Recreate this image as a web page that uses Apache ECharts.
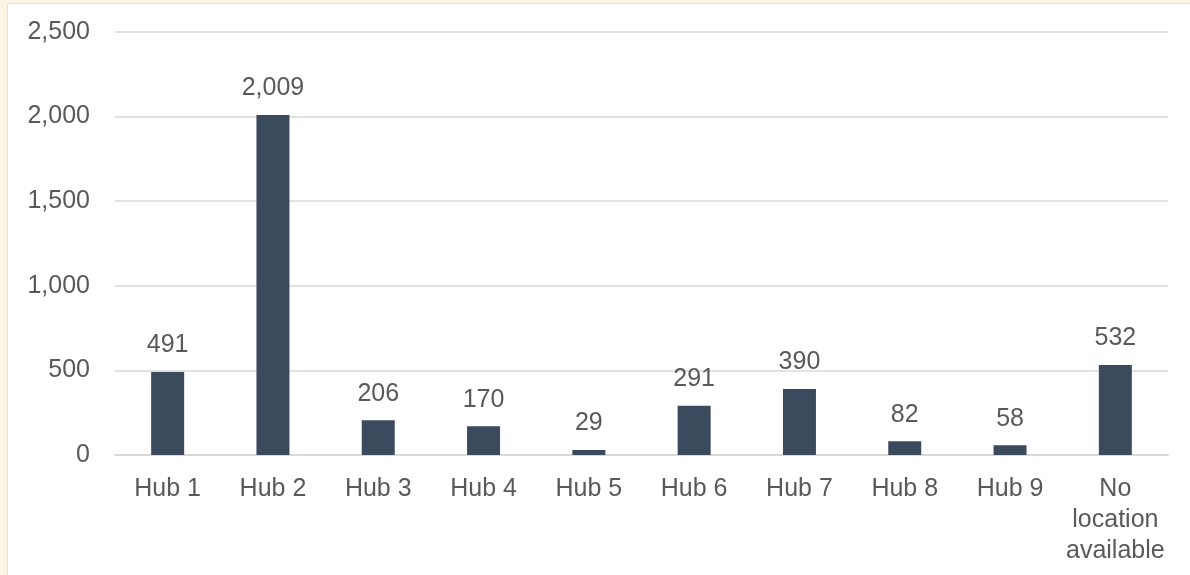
<!DOCTYPE html>
<html lang="en">
<head>
  <meta charset="UTF-8" />
  <title>Hub counts</title>
  <script src="https://cdn.jsdelivr.net/npm/echarts@6/dist/echarts.min.js"></script>
  <style>
    html, body {
      margin: 0;
      padding: 0;
      background-color: #fdf5e3;
      width: 1190px;
      height: 575px;
      overflow: hidden;
    }
    #wrap {
      position: absolute;
      left: 7px;
      top: 3px;
      width: 1182px;
      height: 572px;
      background: #fff;
      border-left: 1px solid #e6e2da;
      border-top: 1px solid #e6e2da;
    }
    #chart {
      width: 1182px;
      height: 572px;
    }
  </style>
</head>
<body>
  <div id="wrap"><div id="chart"></div></div>
  <script>
    var categories = ["Hub 1", "Hub 2", "Hub 3", "Hub 4", "Hub 5", "Hub 6", "Hub 7", "Hub 8", "Hub 9", "No\nlocation\navailable"];
    var counts = [491, 2009, 206, 170, 29, 291, 390, 82, 58, 532];
    var yTicks = [0, 500, 1000, 1500, 2000, 2500];

    var textColor = "#595959";
    var font = "Liberation Sans, Arial, sans-serif";

    var chart = echarts.init(document.getElementById("chart"));
    chart.setOption({
      animation: false,
      grid: { left: 107, right: 22, top: 28, bottom: 121 },
      xAxis: {
        type: "category",
        data: categories,
        axisLine: { lineStyle: { color: "#d9d9d9", width: 2 } },
        axisTick: { show: false },
        axisLabel: {
          color: textColor,
          fontFamily: font,
          fontSize: 25,
          lineHeight: 31,
          margin: 19,
          interval: 0
        }
      },
      yAxis: {
        type: "value",
        min: yTicks[0],
        max: yTicks[yTicks.length - 1],
        interval: 500,
        axisLine: { show: false },
        axisTick: { show: false },
        splitLine: { lineStyle: { color: "#d9d9d9", width: 1.5 } },
        axisLabel: {
          color: textColor,
          fontFamily: font,
          fontSize: 25,
          margin: 25,
          formatter: function (v) { return v.toLocaleString("en-US"); }
        }
      },
      series: [{
        type: "bar",
        data: counts,
        barWidth: 33,
        itemStyle: { color: "#3b4b5d" },
        label: {
          show: true,
          position: "top",
          distance: 14,
          color: textColor,
          fontFamily: font,
          fontSize: 25,
          formatter: function (p) { return p.value.toLocaleString("en-US"); }
        }
      }]
    });
  </script>
</body>
</html>
